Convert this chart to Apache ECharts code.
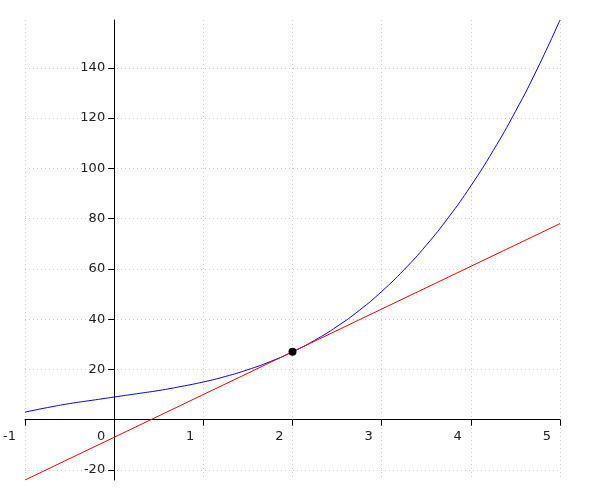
<!DOCTYPE html>
<html>
<head>
<meta charset="utf-8">
<script src="https://cdn.jsdelivr.net/npm/echarts@6/dist/echarts.min.js"></script>
<style>html,body{margin:0;padding:0;background:#fff}#c{width:600px;height:500px}</style>
</head>
<body>
<div id="c"></div>
<script>
// Curve samples
const curveX = [-1,-0.75,-0.5,-0.25,0,0.25,0.5,0.75,1,1.25,1.5,1.75,2,2.25,2.5,2.75,3,3.25,3.5,3.75,4,4.25,4.5,4.75,5];
const curveY = [3,4.8,6.4,7.7,9,10.3,11.6,13.2,15,17.2,19.9,23.1,27,31.6,37.1,43.5,51,59.6,69.4,80.5,93,107,122.6,139.9,159];
// Tangent line end points
const lineX = [-1, 5];
const lineY = [-24, 78];
// Marked point
const pointX = [2];
const pointY = [27];
// Tick labels
const xTicks = [-1,0,1,2,3,4,5];
const yTicks = [-20,20,40,60,80,100,120,140];
const yGrid = [-20,0,20,40,60,80,100,120,140];

const X_MIN = -1, X_MAX = 5, Y_MIN = -24, Y_MAX = 159;
const G = {left:25,right:40,top:20,bottom:20};
const W = 600, H = 500;
const gw = W - G.left - G.right, gh = H - G.top - G.bottom;
// axis crossing offsets (axes cross at the origin)
const xOff = -(0 - Y_MIN) / (Y_MAX - Y_MIN) * gh;
const yOff = -(0 - X_MIN) / (X_MAX - X_MIN) * gw;

const zip = (a,b) => a.map((v,i)=>[v,b[i]]);
const font = {fontFamily:'DejaVu Sans', fontSize:13, color:'#222'};
const chart = echarts.init(document.getElementById('c'), null, {renderer:'canvas'});
chart.setOption({
  animation:false,
  grid:Object.assign({containLabel:false,outerBoundsMode:'none'},G),
  xAxis:{type:'value',min:X_MIN,max:X_MAX,interval:1,position:'bottom',offset:xOff,
    axisLine:{onZero:false,lineStyle:{color:'#000',width:1}},
    axisTick:{show:true,length:6,lineStyle:{color:'#000'}},
    axisLabel:Object.assign({margin:10,align:'right',padding:[0,9,0,0],showMinLabel:true,showMaxLabel:true,customValues:xTicks},font),
    splitLine:{show:true,lineStyle:{color:'#cccccc',type:[1,3],width:1}}
  },
  yAxis:{type:'value',min:Y_MIN,max:Y_MAX,position:'left',offset:yOff,
    axisLine:{onZero:false,lineStyle:{color:'#000',width:1}},
    axisTick:{show:true,length:6,customValues:yGrid,lineStyle:{color:'#000'}},
    axisLabel:Object.assign({margin:9,customValues:yTicks},font),
    splitLine:{show:true,lineStyle:{color:'#cccccc',type:[1,3],width:1}}
  },
  series:[
    {type:'line',data:zip(curveX,curveY),smooth:true,showSymbol:false,lineStyle:{color:'#0000ff',width:1},z:2},
    {type:'line',data:zip(lineX,lineY),showSymbol:false,lineStyle:{color:'#ff0000',width:1},z:3},
    {type:'scatter',data:zip(pointX,pointY),symbolSize:8,itemStyle:{color:'#000',opacity:1},z:4}
  ]
});
</script>
</body>
</html>
